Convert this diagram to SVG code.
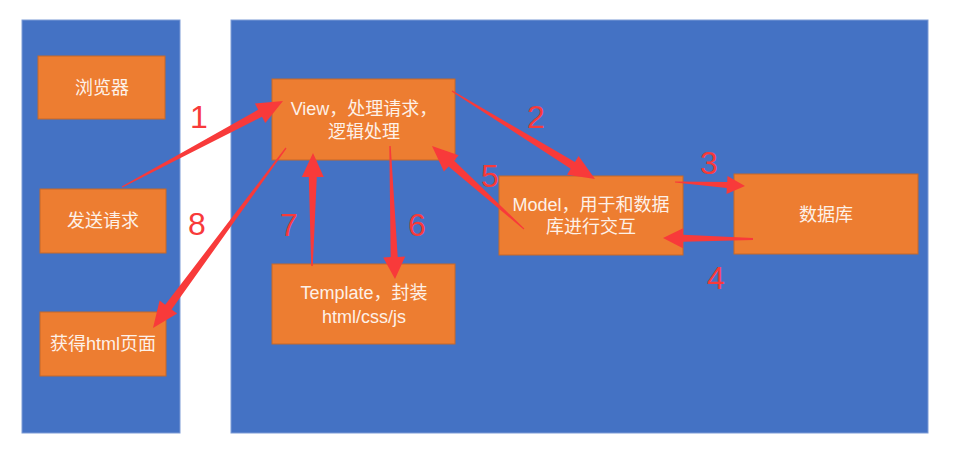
<svg xmlns="http://www.w3.org/2000/svg" width="953" height="450" viewBox="0 0 953 450">
<style>
.panel{fill:#4472C4;stroke:#7C9BD6;stroke-width:1}
.box{fill:#ED7D31;stroke:#C4682A;stroke-width:1}
.lbl{font-family:"Liberation Sans","Noto Sans CJK SC",sans-serif;font-size:18px;fill:#FDF1E8;text-anchor:middle}
.arr{fill:#F83A3A}
.num{font-family:"Liberation Sans",sans-serif;font-size:32px;fill:#F83A3A;text-anchor:middle}
</style>
<rect width="953" height="450" fill="#FFFFFF"/>
<g id="panel-browser"><rect class="panel" x="22" y="20" width="158" height="413"/></g>
<g id="panel-server"><rect class="panel" x="231" y="20" width="697" height="413"/></g>
<g id="browser"><rect class="box" x="38" y="56" width="127" height="63"/><text class="lbl" x="102" y="94">浏览器</text></g>
<g id="send"><rect class="box" x="40" y="189" width="126" height="64"/><text class="lbl" x="103" y="227">发送请求</text></g>
<g id="get"><rect class="box" x="40" y="312" width="126" height="64"/><text class="lbl" x="103" y="350">获得html页面</text></g>
<g id="view"><rect class="box" x="272" y="79" width="183" height="81"/><text class="lbl" x="364" y="115">View，处理请求，</text><text class="lbl" x="364" y="138">逻辑处理</text></g>
<g id="template"><rect class="box" x="272" y="264" width="183" height="80"/><text class="lbl" x="364" y="299">Template，封装</text><text class="lbl" x="364" y="323">html/css/js</text></g>
<g id="model"><rect class="box" x="499" y="176" width="184" height="79"/><text class="lbl" x="591" y="211">Model，用于和数据</text><text class="lbl" x="591" y="233">库进行交互</text></g>
<g id="db"><rect class="box" x="734" y="174" width="184" height="80"/><text class="lbl" x="826" y="221">数据库</text></g>
<g id="connectors">
<polygon class="arr" points="122.3,187.5 262.0,116.7 265.3,122.9 283,101 254.9,103.5 258.2,109.7 121.7,186.5"/>
<polygon class="arr" points="285.5,147.6 165.2,304.7 159.6,300.6 153,328 177.2,313.6 171.6,309.5 286.5,148.4"/>
<polygon class="arr" points="451.7,91.5 570.7,168.8 567.0,174.8 595,179 578.6,156.0 574.9,162.0 452.3,90.5"/>
<polygon class="arr" points="675,182.6 726.8,188.0 726.5,194.0 745,186 727.5,176.0 727.2,182.0 675,181.4"/>
<polygon class="arr" points="753,238 683,234.7 683.1,228.2 663,238 682.9,248.2 683,241.7 753,240"/>
<polygon class="arr" points="524.3,228.6 454.0,160.4 458.7,155.2 432,146 443.9,171.6 448.6,166.4 523.7,229.4"/>
<polygon class="arr" points="389.3,146 390.7,257.1 383.2,257.4 395,279 405.2,256.6 397.7,256.9 390.7,146"/>
<polygon class="arr" points="312.8,266 316.8,177 323.8,177.1 313,153 301.8,176.9 308.8,177 311.2,266"/>
</g>
<g id="numbers">
<text class="num" x="199" y="128">1</text>
<text class="num" x="536" y="128">2</text>
<text class="num" x="709" y="174">3</text>
<text class="num" x="716" y="289">4</text>
<text class="num" x="490" y="187">5</text>
<text class="num" x="417" y="236">6</text>
<text class="num" x="289" y="236">7</text>
<text class="num" x="197" y="235">8</text>
</g>
</svg>
